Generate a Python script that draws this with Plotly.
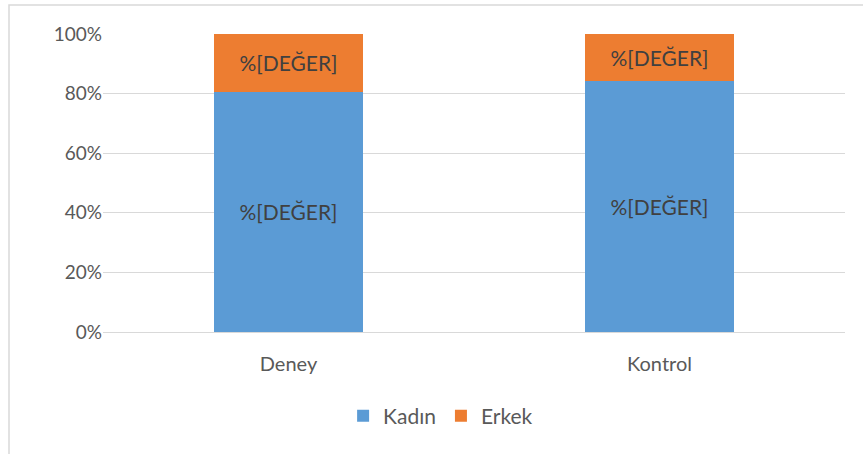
import plotly.graph_objects as go

categories = ["Deney", "Kontrol"]
kadin = [0.807, 0.841]
erkek = [0.193, 0.159]
label_text = "%[DEĞER]"
y_ticks = [0, 0.2, 0.4, 0.6, 0.8, 1.0]
y_tick_labels = ["0%", "20%", "40%", "60%", "80%", "100%"]

FONT = "Lato"

fig = go.Figure()
for name, vals, color in [("Kadın", kadin, "#5b9bd5"), ("Erkek", erkek, "#ed7d31")]:
    fig.add_trace(go.Bar(
        name=name, x=categories, y=vals, width=0.4,
        marker=dict(color=color, line=dict(width=0)),
        text=[label_text] * len(categories), textposition="inside",
        insidetextanchor="middle", textangle=0,
        textfont=dict(family=FONT, size=21, color="#404040"),
    ))

fig.update_layout(
    barmode="stack",
    width=863, height=454,
    margin=dict(l=103, r=18, t=34, b=122),
    paper_bgcolor="white", plot_bgcolor="white",
    font=dict(family=FONT, size=19, color="#595959"),
    uniformtext=dict(mode=False),
    legend=dict(orientation="h", x=0.455, y=-0.282, xanchor="center", yanchor="middle",
                font=dict(family=FONT, size=21, color="#595959"), traceorder="normal"),
    xaxis=dict(showgrid=False, showline=False, ticks="", tickfont=dict(size=20, color="#595959"),
               ticklabelstandoff=18),
    yaxis=dict(range=[0, 1], tickvals=y_ticks, ticktext=y_tick_labels, showgrid=True,
               gridcolor="#d9d9d9", gridwidth=1, zeroline=True, zerolinecolor="#d9d9d9",
               zerolinewidth=1, showline=False, ticks="", tickfont=dict(size=19, color="#595959")),
    shapes=[dict(type="rect", xref="paper", yref="paper",
                 x0=(9 - 103) / 742, x1=(875 - 103) / 742,
                 y0=(332 - 470) / 298, y1=(332 - 5) / 298,
                 line=dict(color="#d9d9d9", width=1.5), fillcolor="rgba(0,0,0,0)", layer="below")],
)

fig.write_html("out.html", config={"displayModeBar": False},
               post_script="document.body.style.margin='0';")
